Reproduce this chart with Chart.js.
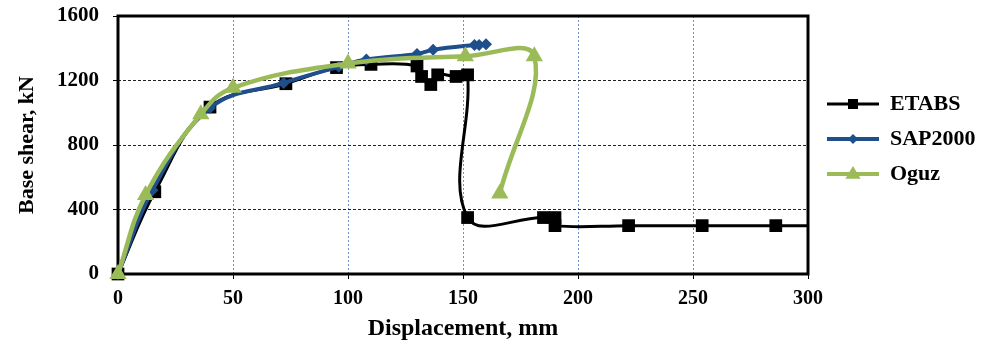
<!DOCTYPE html>
<html><head><meta charset="utf-8">
<script src="https://cdn.jsdelivr.net/npm/chart.js@4/dist/chart.umd.min.js"></script>
<style>html,body{margin:0;padding:0;background:#fff;}#wrap{width:985px;height:349px;}</style>
</head><body><div id="wrap"><canvas id="c" width="985" height="349"></canvas></div>
<script>
// ---- data ----
const seriesNames = ['ETABS', 'SAP2000', 'Oguz'];
const etabsX = [0, 16, 40, 73, 95, 110, 130, 132, 136, 139, 147, 152, 152, 185, 190, 190, 222, 254, 286, 300];
const etabsY = [0, 510, 1035, 1180, 1280, 1300, 1290, 1225, 1175, 1235, 1225, 1235, 350, 350, 350, 300, 300, 300, 300, 300];
const sapX = [0, 15, 40, 72, 96, 108, 130, 137, 155, 157, 160];
const sapY = [0, 520, 1030, 1185, 1285, 1330, 1365, 1390, 1420, 1420, 1425];
const oguzX = [0, 12, 36, 50, 100, 151, 181, 166];
const oguzY = [0, 490, 990, 1155, 1305, 1350, 1350, 500];
const xTicks = [0, 50, 100, 150, 200, 250, 300];
const yTicks = [0, 400, 800, 1200, 1600];
const xTitle = 'Displacement, mm';
const yTitle = 'Base shear, kN';

const colors = ['#000000', '#1F4E8C', '#9BBB59'];
const FONT = "'Liberation Serif', 'Times New Roman', serif";

function pts(xs, ys) { return xs.map((x, i) => ({ x: x, y: ys[i] })); }

// legend icons: line with marker through it
function legendIcon(color, lw, style, r) {
  const cv = document.createElement('canvas');
  cv.width = 58; cv.height = 20;
  const g = cv.getContext('2d');
  g.strokeStyle = color; g.lineWidth = lw;
  g.beginPath(); g.moveTo(6, 10); g.lineTo(58, 10); g.stroke();
  g.fillStyle = color;
  const cx = 32, cy = 10;
  g.beginPath();
  if (style === 'rect') { g.rect(cx - r, cy - r, 2 * r, 2 * r); }
  else if (style === 'rectRot') { g.moveTo(cx, cy - r); g.lineTo(cx + r, cy); g.lineTo(cx, cy + r); g.lineTo(cx - r, cy); g.closePath(); }
  else { g.moveTo(cx, cy - r); g.lineTo(cx + r * 0.95, cy + r * 0.6); g.lineTo(cx - r * 0.95, cy + r * 0.6); g.closePath(); }
  g.fill();
  return cv;
}
const icons = [legendIcon(colors[0], 3, 'rect', 5), legendIcon(colors[1], 4, 'rectRot', 5), legendIcon(colors[2], 4, 'triangle', 8)];

const framePlugin = {
  id: 'frame',
  afterInit(chart) {
    const lg = chart.legend;
    if (lg && !lg._patched) {
      const f = lg.fit.bind(lg);
      lg.fit = function () { f(); this.width = 177; };
      lg._patched = true;
    }
  },
  afterLayout(chart) {
    const lg = chart.legend;
    if (lg) { lg.top -= 6; lg.bottom -= 6; }
  },
  beforeDatasetsDraw(chart) {
    const { ctx, chartArea: a } = chart;
    ctx.save();
    ctx.strokeStyle = '#000'; ctx.lineWidth = 3;
    ctx.strokeRect(a.left, a.top, a.right - a.left, a.bottom - a.top);
    ctx.restore();
  }
};

const lastIdx = etabsX.length - 1;
new Chart(document.getElementById('c'), {
  type: 'scatter',
  data: {
    datasets: [
      { label: seriesNames[0], data: pts(etabsX, etabsY), showLine: true, borderColor: colors[0], backgroundColor: colors[0],
        borderWidth: 3, tension: 0.4, pointStyle: 'rect', pointRadius: c => c.dataIndex === lastIdx ? 0 : 9, pointBorderWidth: 0, order: 3, clip: false },
      { label: seriesNames[1], data: pts(sapX, sapY), showLine: true, borderColor: colors[1], backgroundColor: colors[1],
        borderWidth: 4, tension: 0.4, pointStyle: 'rectRot', pointRadius: 6, pointBorderWidth: 0, order: 2, clip: false },
      { label: seriesNames[2], data: pts(oguzX, oguzY), showLine: true, borderColor: colors[2], backgroundColor: colors[2],
        borderWidth: 4.5, tension: 0.4, pointStyle: 'triangle', pointRadius: 10, pointBorderWidth: 0, order: 1, clip: false }
    ]
  },
  options: {
    responsive: false, animation: false, devicePixelRatio: 1,
    layout: { padding: { top: 16, right: 0, bottom: 0, left: 0 } },
    plugins: {
      tooltip: { enabled: false },
      legend: {
        position: 'right', fullSize: false, align: 'center',
        labels: {
          usePointStyle: true, pointStyleWidth: 58, boxHeight: 22, padding: 13, color: '#000',
          font: { family: FONT, weight: 'bold', size: 22 },
          generateLabels: chart => chart.data.datasets.map((ds, i) => ({
            text: ds.label, pointStyle: icons[i], datasetIndex: i, hidden: false,
            lineWidth: 0, fillStyle: 'rgba(0,0,0,0)', strokeStyle: 'rgba(0,0,0,0)', fontColor: '#000'
          }))
        }
      }
    },
    scales: {
      x: {
        type: 'linear', min: xTicks[0], max: xTicks[xTicks.length - 1],
        afterFit: s => { s.height = 75; },
        ticks: { stepSize: xTicks[1] - xTicks[0], color: '#000', padding: 8, callback: v => String(v), font: { family: FONT, weight: 'bold', size: 20 } },
        grid: { color: '#6F8FC8', lineWidth: 1, tickLength: 5, tickColor: '#000', tickBorderDash: [], tickWidth: 1 },
        border: { display: false, dash: [2, 2] },
        title: { display: true, text: xTitle, color: '#000', padding: { top: 0, bottom: 6 }, font: { family: FONT, weight: 'bold', size: 24 } }
      },
      y: {
        type: 'linear', min: yTicks[0], max: yTicks[yTicks.length - 1],
        afterFit: s => { s.width = 118; s.paddingTop = 0; s.paddingBottom = 0; },
        ticks: { stepSize: yTicks[1] - yTicks[0], color: '#000', padding: 14, callback: v => String(v), font: { family: FONT, weight: 'bold', size: 21 } },
        grid: { color: '#222', lineWidth: 1, tickLength: 5, tickColor: '#000', tickBorderDash: [], tickWidth: 1 },
        border: { display: false, dash: [3, 2] },
        title: { display: true, text: yTitle, color: '#000', padding: { top: 14, bottom: 0 }, font: { family: FONT, weight: 'bold', size: 22 } }
      }
    }
  },
  plugins: [framePlugin]
});
</script>
</body></html>
